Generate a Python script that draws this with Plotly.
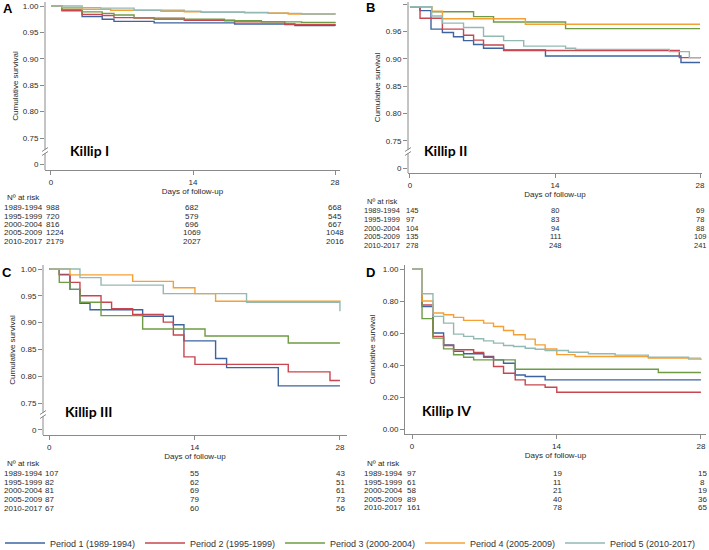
import plotly.graph_objects as go

W, H = 709, 550

# ---------------- data ----------------
periods = ["Period 1 (1989-1994)", "Period 2 (1995-1999)", "Period 3 (2000-2004)",
           "Period 4 (2005-2009)", "Period 5 (2010-2017)"]
colors = ["#3d64a0", "#c8464f", "#6e9c44", "#f4a035", "#93b9b3"]
risk_rows = ["1989-1994", "1995-1999", "2000-2004", "2005-2009", "2010-2017"]
x_ticks = [0, 14, 28]

# Panel A - Killip I
A_t1 = [0, 1.09, 3.07, 5.05, 6.21, 10.17, 18.1, 24.04, 28]
A_s1 = [1, 0.992, 0.980, 0.975, 0.971, 0.968, 0.966, 0.963, 0.962]
A_t2 = [0, 1.09, 3.07, 5.05, 6.21, 8.19, 13.14, 18.1, 23.05, 28]
A_s2 = [1, 0.991, 0.984, 0.982, 0.978, 0.977, 0.973, 0.970, 0.965, 0.963]
A_t3 = [0, 1.09, 3.07, 5.05, 6.21, 8.19, 10.17, 17.1, 20.74, 24.7, 28]
A_s3 = [1, 0.994, 0.989, 0.986, 0.983, 0.978, 0.975, 0.972, 0.970, 0.969, 0.968]
A_t4 = [0, 1.09, 3.07, 5.88, 13.14, 19.09, 23.38, 28]
A_s4 = [1, 0.997, 0.994, 0.992, 0.989, 0.987, 0.985, 0.984]
A_t5 = [0, 3.07, 4.89, 8.19, 10.83, 14.79, 21.4, 24.7, 28]
A_s5 = [1, 0.997, 0.996, 0.992, 0.990, 0.988, 0.986, 0.985, 0.984]

# Panel B - Killip II (values in axis-position units)
B_t1 = [0, 0.97, 2.03, 3.13, 4.2, 5.17, 6.14, 7.1, 9.04, 13.08, 26.16, 28]
B_s1 = [0.995, 0.988, 0.954, 0.948, 0.940, 0.933, 0.926, 0.919, 0.916, 0.905, 0.893, 0.893]
B_t2 = [0, 0.97, 3.13, 5.17, 6.14, 7.1, 9.04, 26.0, 28]
B_s2 = [0.995, 0.974, 0.954, 0.943, 0.934, 0.925, 0.915, 0.902, 0.901]
B_t3 = [0, 2.1, 6.14, 8.07, 15.02, 28]
B_s3 = [0.995, 0.986, 0.977, 0.967, 0.955, 0.955]
B_t4 = [0, 2.1, 3.13, 11.14, 28]
B_s4 = [0.995, 0.987, 0.973, 0.963, 0.963]
B_t5 = [0, 2.1, 3.13, 5.17, 7.1, 9.04, 10.98, 15.02, 15.99, 25.03, 26.97, 28]
B_s5 = [0.995, 0.978, 0.965, 0.957, 0.941, 0.933, 0.923, 0.919, 0.917, 0.913, 0.902, 0.902]

# Panel C - Killip III
C_t1 = [0, 0.96, 1.99, 2.95, 3.92, 8.99, 11.95, 12.97, 16.02, 17.08, 22.06, 28]
C_s1 = [1, 0.990, 0.962, 0.936, 0.924, 0.912, 0.896, 0.866, 0.833, 0.816, 0.782, 0.782]
C_t2 = [0, 0.96, 1.99, 2.95, 4.98, 6.0, 8.03, 10.98, 11.95, 12.97, 14.03, 23.02, 27.04, 28]
C_s2 = [1, 0.989, 0.975, 0.950, 0.938, 0.926, 0.915, 0.901, 0.877, 0.836, 0.822, 0.808, 0.792, 0.792]
C_t3 = [0, 0.96, 1.99, 2.95, 4.98, 8.99, 15.0, 23.02, 28]
C_s3 = [1, 0.975, 0.962, 0.938, 0.913, 0.888, 0.875, 0.862, 0.862]
C_t4 = [0, 1.99, 8.03, 11.95, 14.03, 16.02, 28]
C_s4 = [1, 0.989, 0.977, 0.965, 0.954, 0.940, 0.939]
C_t5 = [0, 2.95, 4.98, 10.98, 19.0, 28]
C_s5 = [1, 0.984, 0.970, 0.954, 0.938, 0.921]

# Panel D - Killip IV
D_t1 = [0, 0.97, 2.03, 3.06, 4.03, 5.0, 6.94, 7.9, 8.87, 10.0, 10.97, 12.9, 28]
D_s1 = [1, 0.765, 0.60, 0.526, 0.485, 0.47, 0.453, 0.432, 0.411, 0.338, 0.328, 0.307, 0.307]
D_t2 = [0, 0.97, 2.03, 3.06, 4.03, 5.97, 6.94, 7.9, 8.87, 10.0, 10.97, 12.9, 14.03, 28]
D_s2 = [1, 0.775, 0.579, 0.522, 0.495, 0.478, 0.449, 0.391, 0.349, 0.307, 0.276, 0.261, 0.23, 0.23]
D_t3 = [0, 0.97, 2.03, 3.06, 4.03, 5.0, 5.97, 10.0, 23.87, 28]
D_s3 = [1, 0.69, 0.568, 0.501, 0.464, 0.449, 0.432, 0.374, 0.353, 0.353]
D_t4 = [0, 0.97, 2.03, 3.06, 4.03, 5.0, 6.94, 7.9, 8.87, 9.84, 10.97, 11.94, 12.9, 14.03, 15.8, 22.9, 28]
D_s4 = [1, 0.80, 0.725, 0.714, 0.698, 0.679, 0.662, 0.641, 0.616, 0.589, 0.562, 0.526, 0.50, 0.465, 0.453, 0.443, 0.443]
D_t5 = [0, 0.97, 2.03, 3.06, 4.03, 5.0, 5.97, 6.94, 7.9, 8.87, 9.84, 10.97, 11.94, 12.9, 15.16, 17.1, 19.68, 22.9, 26.8, 28]
D_s5 = [1, 0.845, 0.704, 0.662, 0.593, 0.579, 0.564, 0.551, 0.537, 0.522, 0.516, 0.505, 0.499, 0.491, 0.48, 0.47, 0.462, 0.449, 0.437, 0.432]

# Numbers at risk (day 0, 14, 28)
risk_A = [[988, 720, 816, 1224, 2179], [682, 579, 696, 1069, 2027], [668, 545, 667, 1048, 2016]]
risk_B = [[145, 97, 104, 135, 278], [80, 83, 94, 111, 248], [69, 78, 88, 109, 241]]
risk_C = [[107, 82, 81, 87, 67], [55, 62, 69, 79, 60], [43, 51, 61, 73, 56]]
risk_D = [[97, 61, 58, 89, 161], [19, 11, 21, 40, 78], [15, 8, 19, 36, 65]]

yticks_A = [0.70, 0.75, 0.80, 0.85, 0.90, 0.95, 1.00]
ytext_A = ["0", "0.75", "0.80", "0.85", "0.90", "0.95", "1.00"]
ytext_B = ["0", "0.75", "0.80", "0.85", "0.90", "0.96", "1.01"]
yticks_D = [0.0, 0.2, 0.4, 0.6, 0.8, 1.0]
ytext_D = ["0.00", "0.20", "0.40", "0.60", "0.80", "1.00"]

# ---------------- layout helpers ----------------
def px_x(p):
    return p / W

def px_y(p):
    return 1 - p / H

AX = "#8a8a8a"
TXT = "#2a2a2a"
FONT = "Arial"

panels = [
    dict(key="A", name="Killip I", xa="x", ya="y", xpx=(45, 340), ypx=(2, 170),
         xr=[-0.59, 28.49], yr=[0.6896, 1.0076], yt=yticks_A, ytt=ytext_A,
         series=[(A_t1, A_s1), (A_t2, A_s2), (A_t3, A_s3), (A_t4, A_s4), (A_t5, A_s5)],
         brk=(150, 153), letter=(8, 9), killip=(68, 150), ystand=3, fs=8,
         risk=risk_A, lab_x=2, col0=44, col14=192, col28=335,
         atrisk_y=197, rows_y=[207, 216, 224.5, 233, 242]),
    dict(key="B", name="Killip II", xa="x2", ya="y2", xpx=(408, 702), ypx=(2, 173),
         xr=[-0.19, 28.19], yr=[0.6909, 1.0037], yt=yticks_A, ytt=ytext_B,
         series=[(B_t1, B_s1), (B_t2, B_s2), (B_t3, B_s3), (B_t4, B_s4), (B_t5, B_s5)],
         brk=(150, 153), letter=(370, 8), killip=(422, 150), ystand=4, fs=7.5,
         risk=risk_B, lab_x=362, col0=404, col14=555, col28=700,
         atrisk_y=201, rows_y=[211, 219.5, 228, 236.5, 245]),
    dict(key="C", name="Killip III", xa="x3", ya="y3", xpx=(43, 347), ypx=(265, 435),
         xr=[-0.61, 28.68], yr=[0.6903, 1.0075], yt=yticks_A, ytt=ytext_A,
         series=[(C_t1, C_s1), (C_t2, C_s2), (C_t3, C_s3), (C_t4, C_s4), (C_t5, C_s5)],
         brk=(413, 416), letter=(7, 272), killip=(63, 411), ystand=4, fs=8,
         risk=risk_C, lab_x=2, col0=43, col14=194, col28=340,
         atrisk_y=463, rows_y=[473, 482, 490.5, 499, 508]),
    dict(key="D", name="Killip IV", xa="x4", ya="y4", xpx=(405, 706), ypx=(265, 434),
         xr=[-0.68, 28.49], yr=[-0.031, 1.025], yt=yticks_D, ytt=ytext_D,
         series=[(D_t1, D_s1), (D_t2, D_s2), (D_t3, D_s3), (D_t4, D_s4), (D_t5, D_s5)],
         brk=None, letter=(370, 272), killip=(420, 410), ystand=6, fs=8,
         risk=risk_D, lab_x=362, col0=405, col14=557, col28=702,
         atrisk_y=463, rows_y=[473, 482, 490.5, 499, 507.5]),
]

fig = go.Figure()
annotations = []
shapes = []
layout_axes = {}

for pi, P in enumerate(panels):
    for i, (t, s) in enumerate(P["series"]):
        fig.add_trace(go.Scatter(
            x=t, y=s, mode="lines", name=periods[i], legendgroup=periods[i],
            showlegend=(pi == 0), xaxis=P["xa"], yaxis=P["ya"],
            line=dict(color=colors[i], width=1.4, shape="hv"),
            hoverinfo="x+y+name"))

    xname = "xaxis" + P["xa"][1:]
    yname = "yaxis" + P["ya"][1:]
    layout_axes[xname] = dict(
        domain=[px_x(P["xpx"][0]), px_x(P["xpx"][1])], range=P["xr"],
        anchor=P["ya"], tickvals=x_ticks, ticks="outside", ticklen=4,
        tickcolor=AX, showline=True, linecolor=AX, linewidth=1,
        showgrid=False, zeroline=False,
        tickfont=dict(family=FONT, size=8, color=TXT),
        title=dict(text="Days of follow-up", standoff=1,
                   font=dict(family=FONT, size=8, color=TXT)))
    layout_axes[yname] = dict(
        domain=[px_y(P["ypx"][1]), px_y(P["ypx"][0])], range=P["yr"],
        anchor=P["xa"], tickvals=P["yt"], ticktext=P["ytt"], ticks="outside",
        ticklen=4, tickcolor=AX, showline=(P["brk"] is None), linecolor=AX,
        linewidth=1, showgrid=False, zeroline=False,
        tickfont=dict(family=FONT, size=8, color=TXT),
        title=dict(text="Cumulative survival", standoff=P["ystand"],
                   font=dict(family=FONT, size=8, color=TXT)))

    ax = P["xpx"][0]
    if P["brk"] is not None:
        g0, g1 = P["brk"]
        shapes.append(dict(type="line", xref="paper", yref="paper",
                           x0=px_x(ax), x1=px_x(ax), y0=px_y(P["ypx"][0]), y1=px_y(g0),
                           line=dict(color=AX, width=1)))
        shapes.append(dict(type="line", xref="paper", yref="paper",
                           x0=px_x(ax), x1=px_x(ax), y0=px_y(g1), y1=px_y(P["ypx"][1]),
                           line=dict(color=AX, width=1)))
        for off in (-2, 2):
            c = (g0 + g1) / 2 + off
            shapes.append(dict(type="line", xref="paper", yref="paper",
                               x0=px_x(ax - 3), x1=px_x(ax + 3),
                               y0=px_y(c + 2), y1=px_y(c - 2),
                               line=dict(color=AX, width=1)))

    # panel letter
    annotations.append(dict(text="<b>%s</b>" % P["key"], xref="paper", yref="paper",
                            x=px_x(P["letter"][0]), y=px_y(P["letter"][1]),
                            xanchor="center", yanchor="middle", showarrow=False,
                            font=dict(family=FONT, size=13, color="#000")))
    # Killip label
    annotations.append(dict(text="<b>%s</b>" % P["name"], xref="paper", yref="paper",
                            x=px_x(P["killip"][0]), y=px_y(P["killip"][1]),
                            xanchor="left", yanchor="middle", showarrow=False,
                            font=dict(family="Lato", size=14, color="#000")))
    # numbers at risk
    fs = P["fs"]
    annotations.append(dict(text="Nº at risk", xref="paper", yref="paper",
                            x=px_x(P["lab_x"] + 3), y=px_y(P["atrisk_y"]),
                            xanchor="left", yanchor="middle", showarrow=False,
                            font=dict(family=FONT, size=fs, color=TXT)))
    for r, lab in enumerate(risk_rows):
        yy = px_y(P["rows_y"][r])
        annotations.append(dict(text=lab, xref="paper", yref="paper", x=px_x(P["lab_x"]),
                                y=yy, xanchor="left", yanchor="middle", showarrow=False,
                                font=dict(family=FONT, size=fs, color=TXT)))
        annotations.append(dict(text=str(P["risk"][0][r]), xref="paper", yref="paper",
                                x=px_x(P["col0"]), y=yy, xanchor="left", yanchor="middle",
                                showarrow=False, font=dict(family=FONT, size=fs, color=TXT)))
        annotations.append(dict(text=str(P["risk"][1][r]), xref="paper", yref="paper",
                                x=px_x(P["col14"]), y=yy, xanchor="center", yanchor="middle",
                                showarrow=False, font=dict(family=FONT, size=fs, color=TXT)))
        annotations.append(dict(text=str(P["risk"][2][r]), xref="paper", yref="paper",
                                x=px_x(P["col28"]), y=yy, xanchor="center", yanchor="middle",
                                showarrow=False, font=dict(family=FONT, size=fs, color=TXT)))

fig.update_layout(
    width=W, height=H, autosize=False,
    margin=dict(l=0, r=0, t=0, b=0, autoexpand=False),
    paper_bgcolor="white", plot_bgcolor="white",
    font=dict(family=FONT, size=8, color=TXT),
    showlegend=True,
    legend=dict(orientation="h", x=0, xanchor="left", y=px_y(543), yanchor="middle",
                font=dict(family=FONT, size=9, color="#333"), itemwidth=40,
                entrywidth=85, entrywidthmode="pixels", bgcolor="rgba(0,0,0,0)",
                tracegroupgap=0),
    annotations=annotations, shapes=shapes,
    **layout_axes,
)

fig.write_html("out.html", config={"displayModeBar": False},
               post_script="document.body.style.margin='0';document.body.style.overflow='hidden';")
